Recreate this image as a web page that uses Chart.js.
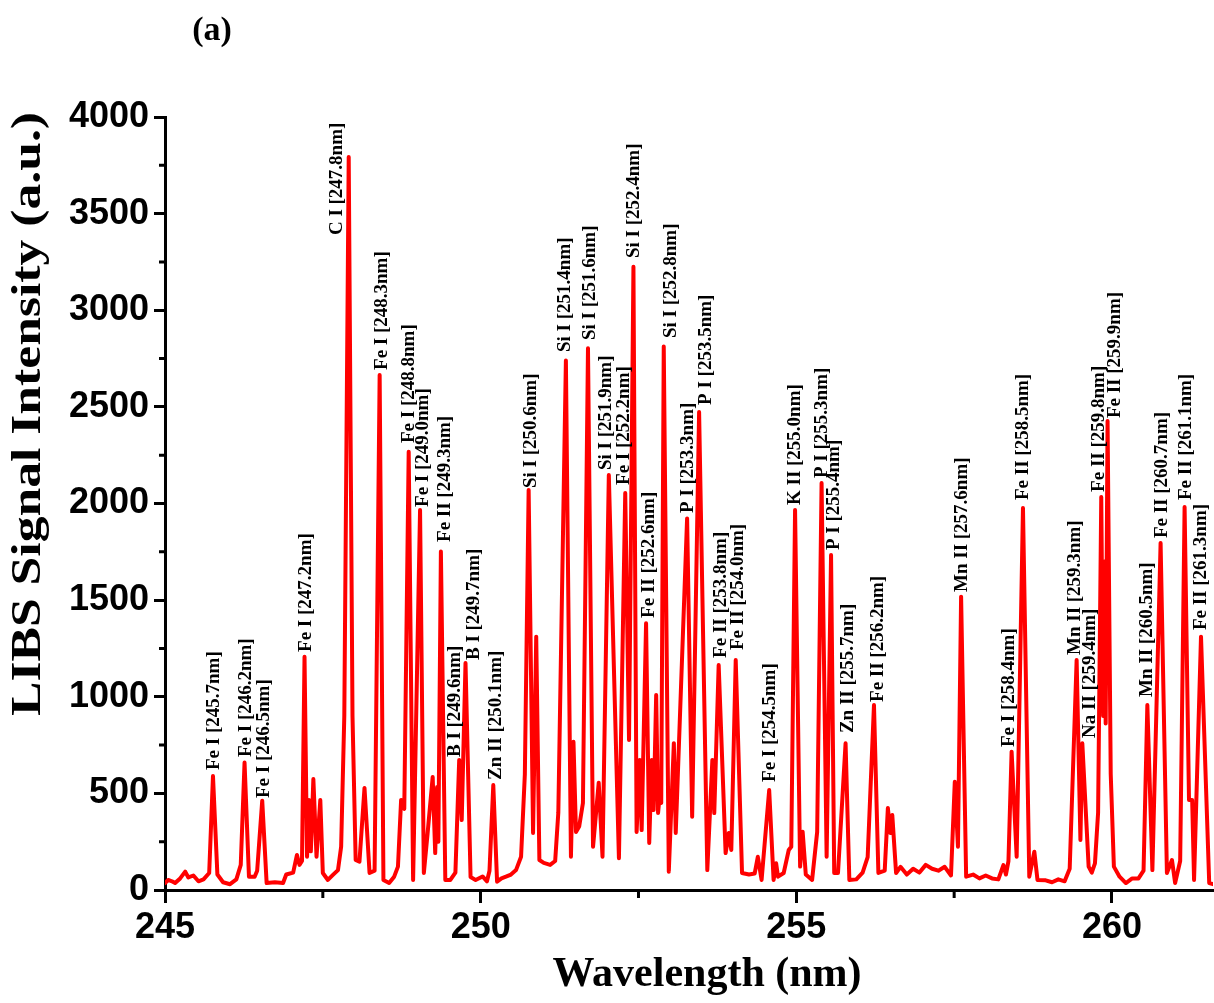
<!DOCTYPE html>
<html>
<head>
<meta charset="utf-8">
<title>LIBS spectrum (a)</title>
<script src="https://cdn.jsdelivr.net/npm/chart.js@4.4.1/dist/chart.umd.min.js"></script>
<style>
    html, body { margin: 0; padding: 0; background: #ffffff; }
    #wrap { width: 1214px; height: 1003px; position: relative; }
</style>
</head>
<body>
<div id="wrap"><canvas id="spectrum" width="1214" height="1003"></canvas></div>
<script>
// spectrum: wavelength (nm) and signal (a.u.)
var wavelength = [
    245.00, 245.05, 245.11, 245.16, 245.24, 245.32, 245.37, 245.45, 245.53, 245.61, 245.70, 245.76,
    245.83, 245.92, 246.03, 246.13, 246.20, 246.26, 246.33, 246.42, 246.46, 246.54, 246.61, 246.74,
    246.87, 246.92, 247.03, 247.09, 247.13, 247.17, 247.21, 247.25, 247.28, 247.31, 247.35, 247.40,
    247.46, 247.50, 247.58, 247.66, 247.74, 247.79, 247.84, 247.91, 247.97, 248.02, 248.08, 248.16,
    248.24, 248.32, 248.40, 248.46, 248.55, 248.63, 248.69, 248.74, 248.79, 248.86, 248.93, 249.04,
    249.10, 249.16, 249.24, 249.28, 249.31, 249.33, 249.37, 249.44, 249.52, 249.60, 249.66, 249.70,
    249.76, 249.84, 249.92, 250.03, 250.10, 250.14, 250.20, 250.26, 250.33, 250.40, 250.48, 250.56,
    250.64, 250.70, 250.76, 250.83, 250.88, 250.93, 251.00, 251.10, 251.18, 251.23, 251.35, 251.43,
    251.47, 251.51, 251.56, 251.62, 251.70, 251.78, 251.87, 251.93, 252.03, 252.19, 252.29, 252.35,
    252.42, 252.47, 252.52, 252.55, 252.62, 252.67, 252.71, 252.74, 252.78, 252.81, 252.84, 252.86,
    252.90, 252.98, 253.06, 253.09, 253.27, 253.35, 253.46, 253.59, 253.67, 253.70, 253.77, 253.88,
    253.93, 253.97, 254.04, 254.14, 254.25, 254.34, 254.39, 254.45, 254.57, 254.64, 254.68, 254.71,
    254.80, 254.88, 254.92, 254.98, 255.06, 255.10, 255.15, 255.25, 255.33, 255.40, 255.48, 255.55,
    255.60, 255.66, 255.78, 255.84, 255.95, 256.05, 256.13, 256.23, 256.30, 256.40, 256.45, 256.49,
    256.52, 256.58, 256.65, 256.75, 256.85, 256.95, 257.05, 257.15, 257.25, 257.35, 257.45, 257.51,
    257.56, 257.61, 257.69, 257.80, 257.90, 258.00, 258.10, 258.20, 258.28, 258.32, 258.36, 258.41,
    258.49, 258.59, 258.69, 258.77, 258.82, 258.95, 259.05, 259.15, 259.25, 259.33, 259.44, 259.50,
    259.53, 259.63, 259.68, 259.73, 259.78, 259.83, 259.86, 259.88, 259.90, 259.93, 259.98, 260.03,
    260.12, 260.22, 260.32, 260.42, 260.50, 260.56, 260.64, 260.77, 260.87, 260.95, 261.00, 261.08,
    261.15, 261.22, 261.27, 261.30, 261.41, 261.54, 261.60
];
var intensity = [
    36, 52, 45, 36, 60, 95, 65, 75, 45, 55, 88, 590,
    80, 40, 30, 55, 130, 660, 69, 69, 100, 462, 36, 40,
    36, 80, 90, 181, 130, 150, 1207, 172, 466, 200, 574, 172,
    466, 88, 52, 78, 103, 224, 900, 3793, 900, 155, 146, 528,
    88, 100, 2665, 52, 36, 69, 121, 466, 420, 2268, 52, 1966,
    88, 295, 585, 191, 533, 250, 1751, 52, 52, 90, 673, 362,
    1175, 67, 52, 70, 45, 100, 543, 43, 60, 69, 80, 103,
    172, 600, 2070, 295, 1311, 155, 140, 130, 150, 400, 2740, 172,
    767, 300, 328, 450, 2803, 224, 555, 172, 2147, 164, 2054, 776,
    3225, 300, 673, 310, 1380, 243, 673, 414, 1009, 398, 502, 450,
    2812, 95, 760, 295, 1923, 379, 2473, 103, 673, 398, 1164, 191,
    295, 207, 1190, 88, 80, 85, 172, 52, 517, 52, 138, 69,
    88, 207, 224, 1966, 121, 302, 80, 52, 300, 2106, 172, 1733,
    88, 88, 759, 52, 55, 90, 170, 957, 88, 100, 424, 295,
    388, 88, 120, 80, 110, 90, 130, 110, 100, 120, 75, 560,
    224, 1518, 69, 80, 60, 75, 60, 55, 129, 80, 150, 716,
    172, 1977, 69, 198, 52, 50, 40, 55, 45, 110, 1190, 259,
    759, 121, 90, 138, 400, 2034, 900, 1700, 862, 2427, 600, 121,
    69, 36, 60, 60, 100, 957, 103, 1796, 88, 155, 36, 150,
    1982, 466, 466, 52, 1311, 36, 30
];

var xTicks = [245, 250, 255, 260];
var yTicks = [0, 500, 1000, 1500, 2000, 2500, 3000, 3500, 4000];

// line identifications and where each label starts (nm, a.u.)
var peakNames = [
    "Fe I [245.7nm]", "Fe I [246.2nm]", "Fe I [246.5nm]", "Fe I [247.2nm]", "C I [247.8nm]",
    "Fe I [248.3nm]", "Fe I [248.8nm]", "Fe I [249.0nm]", "Fe II [249.3nm]", "B I [249.6nm]",
    "B I [249.7nm]", "Zn II [250.1nm]", "Si I [250.6nm]", "Si I [251.4nm]", "Si I [251.6nm]",
    "Si I [251.9nm]", "Fe I [252.2nm]", "Si I [252.4nm]", "Fe II [252.6nm]", "Si I [252.8nm]",
    "P I [253.3nm]", "P I [253.5nm]", "Fe II [253.8nm]", "Fe II [254.0nm]", "Fe I [254.5nm]",
    "K II [255.0nm]", "P I [255.3nm]", "P I [255.4nm]", "Zn II [255.7nm]", "Fe II [256.2nm]",
    "Mn II [257.6nm]", "Fe I [258.4nm]", "Fe II [258.5nm]", "Mn II [259.3nm]", "Na II [259.4nm]",
    "Fe II [259.8nm]", "Fe II [259.9nm]", "Mn II [260.5nm]", "Fe II [260.7nm]", "Fe II [261.1nm]",
    "Fe II [261.3nm]"
];
var peakX = [
    245.774, 246.280, 246.572, 247.228, 247.725, 248.444, 248.870, 249.084, 249.431, 249.589,
    249.889, 250.237, 250.806, 251.335, 251.730, 251.991, 252.267, 252.425, 252.662, 253.017,
    253.286, 253.570, 253.807, 254.084, 254.581, 254.984, 255.411, 255.600, 255.814, 256.288,
    257.622, 258.373, 258.594, 259.415, 259.652, 259.803, 260.055, 260.553, 260.790, 261.177,
    261.414
];
var peakY = [
    621, 688, 476, 1232, 3389, 2691, 2313, 1982, 1801, 688,
    1190, 569, 2080, 2784, 2846, 2173, 2096, 3270, 1408, 2856,
    1951, 2510, 1201, 1242, 559, 1992, 2132, 1759, 812, 973,
    1542, 740, 2018, 1216, 787, 2060, 2442, 999, 1821, 2018,
    1345
];

var xTitle = "Wavelength (nm)";
var yTitle = "LIBS Signal Intensity (a.u.)";

var SERIF = "'Liberation Serif', 'Times New Roman', serif";
var SANS = "'Liberation Sans', Arial, sans-serif";

var points = wavelength.map(function (w, i) { return { x: w, y: intensity[i] }; });

var peakLabels = {
    id: "peakLabels",
    afterDatasetsDraw: function (chart) {
        var ctx = chart.ctx, xs = chart.scales.x, ys = chart.scales.y;
        ctx.save();
        ctx.font = "bold 19px " + SERIF;
        ctx.fillStyle = "#000";
        ctx.textAlign = "left";
        ctx.textBaseline = "middle";
        for (var i = 0; i < peakNames.length; i++) {
            ctx.save();
            ctx.translate(xs.getPixelForValue(peakX[i]), ys.getPixelForValue(peakY[i]));
            ctx.rotate(-Math.PI / 2);
            ctx.fillText(peakNames[i], 0, 0);
            ctx.restore();
        }
        ctx.restore();
    }
};

// half-step ticks, axis titles and the panel tag
var extras = {
    id: "extras",
    afterDraw: function (chart) {
        var ctx = chart.ctx, xs = chart.scales.x, ys = chart.scales.y;
        var i, p, w;
        ctx.save();
        ctx.strokeStyle = "#000";
        ctx.lineWidth = 3;
        ctx.beginPath();
        for (i = 0; i < xTicks.length; i++) {
            p = xs.getPixelForValue(xTicks[i] + 2.5);
            if (p > xs.right) break;
            ctx.moveTo(p, xs.top);
            ctx.lineTo(p, xs.top + 8);
        }
        for (i = 0; i < yTicks.length - 1; i++) {
            p = ys.getPixelForValue(yTicks[i] + 250);
            ctx.moveTo(ys.right, p);
            ctx.lineTo(ys.right - 6, p);
        }
        ctx.stroke();

        ctx.fillStyle = "#000";
        ctx.textBaseline = "middle";

        ctx.font = "bold 34px " + SERIF;
        ctx.textAlign = "center";
        ctx.fillText("(a)", 212, 31);

        ctx.font = "bold 42px " + SERIF;
        ctx.fillText(xTitle, 707, 975);

        // the source's y title is drawn wider than its x title
        ctx.textAlign = "left";
        w = ctx.measureText(yTitle).width;
        ctx.translate(29, 716);
        ctx.rotate(-Math.PI / 2);
        ctx.scale(604 / w, 1);
        ctx.fillText(yTitle, 0, 0);
        ctx.restore();
    }
};

var chart = new Chart(document.getElementById("spectrum"), {
    type: "line",
    data: {
        datasets: [{
            label: "LIBS",
            data: points,
            borderColor: "#ff0000",
            borderWidth: 4,
            pointRadius: 0,
            tension: 0,
            fill: false,
            borderJoinStyle: "round",
            borderCapStyle: "round"
        }]
    },
    options: {
        responsive: false,
        animation: false,
        devicePixelRatio: 1,
        layout: { padding: { top: 117, right: 1, left: 0, bottom: 0 } },
        plugins: {
            legend: { display: false },
            tooltip: { enabled: false }
        },
        scales: {
            x: {
                type: "linear",
                min: 245,
                max: 261.6,
                afterFit: function (s) { s.height = 113; },
                afterBuildTicks: function (s) {
                    s.ticks = xTicks.map(function (v) { return { value: v }; });
                },
                grid: {
                    drawOnChartArea: false,
                    drawTicks: true,
                    tickLength: 13,
                    tickWidth: 3,
                    tickColor: "#000"
                },
                border: { display: true, width: 3, color: "#000" },
                ticks: {
                    color: "#000",
                    padding: 3,
                    maxRotation: 0,
                    callback: function (v) { return String(v); },
                    font: { family: SANS, size: 36, weight: "bold" }
                }
            },
            y: {
                min: 0,
                max: 4000,
                afterFit: function (s) { s.width = 165; },
                afterBuildTicks: function (s) {
                    s.ticks = yTicks.map(function (v) { return { value: v }; });
                },
                grid: {
                    drawOnChartArea: false,
                    drawTicks: true,
                    tickLength: 11,
                    tickWidth: 3,
                    tickColor: "#000"
                },
                border: { display: true, width: 3, color: "#000" },
                ticks: {
                    color: "#000",
                    padding: 5,
                    callback: function (v) { return String(v); },
                    font: { family: SANS, size: 36, weight: "bold" }
                }
            }
        }
    },
    plugins: [peakLabels, extras]
});
</script>
</body>
</html>
